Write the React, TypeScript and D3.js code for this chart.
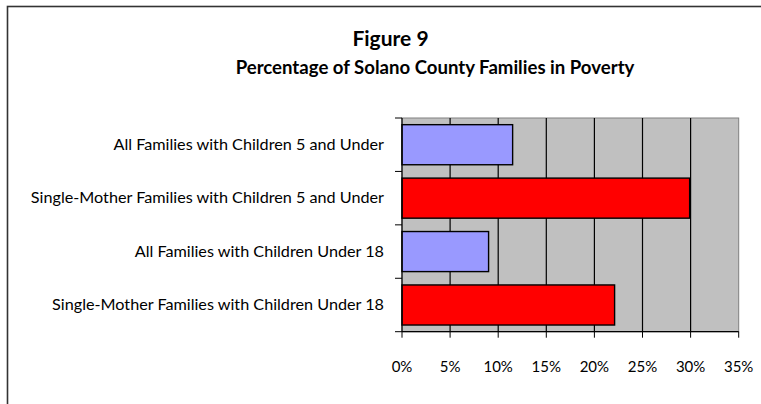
import * as d3 from 'd3';

const CATEGORIES = [
  'All Families with Children 5 and Under',
  'Single-Mother Families with Children 5 and Under',
  'All Families with Children Under 18',
  'Single-Mother Families with Children Under 18',
];
const VALUES = [11.5, 29.9, 9.0, 22.1];
const BAR_COLORS = ['#9999ff', '#ff0000', '#9999ff', '#ff0000'];
const X_TICKS = [0, 5, 10, 15, 20, 25, 30, 35];

const VW = 761;
const VH = 404;
const PLOT = { left: 402, right: 738.7, top: 118, bottom: 331.7 };
const FONT = 'Lato, "Open Sans", sans-serif';

const xScale = d3.scaleLinear().domain([0, 35]).range([PLOT.left, PLOT.right]);
const yScale = d3.scaleBand<string>()
  .domain(CATEGORIES)
  .range([PLOT.top, PLOT.bottom])
  .paddingInner(0.25)
  .paddingOuter(0.125);

const step = yScale.step();
const boundaries = d3.range(CATEGORIES.length + 1).map(i => PLOT.top + i * step);

export default function App() {
  return (
    <svg width={VW} height={VH} viewBox={`0 0 ${VW} ${VH}`}
      style={{ position: 'absolute', left: 0, top: 0, display: 'block', background: '#fff' }}>
      <rect x={7.5} y={6.5} width={VW + 20} height={VH + 20} fill="#fff" stroke="#333" strokeWidth={1.6} />

      <text x={390.5} y={45.5} textAnchor="middle" fontFamily={FONT} fontWeight={700} fontSize={21} fill="#000">
        Figure 9
      </text>
      <text x={435} y={74} textAnchor="middle" fontFamily={FONT} fontWeight={700} fontSize={18.6} fill="#000">
        Percentage of Solano County Families in Poverty
      </text>

      {/* plot area */}
      <rect x={PLOT.left} y={PLOT.top} width={PLOT.right - PLOT.left} height={PLOT.bottom - PLOT.top}
        fill="#c0c0c0" stroke="#808080" strokeWidth={1} />

      {X_TICKS.filter(t => t > 0 && t < 35).map(t => (
        <line key={`g${t}`} x1={xScale(t)} x2={xScale(t)} y1={PLOT.top} y2={PLOT.bottom}
          stroke="#000" strokeWidth={1.2} />
      ))}

      {CATEGORIES.map((c, i) => (
        <rect key={`b${i}`} x={xScale(0)} y={yScale(c)!}
          width={xScale(VALUES[i]) - xScale(0)} height={yScale.bandwidth()}
          fill={BAR_COLORS[i]} stroke="#000" strokeWidth={1.4} />
      ))}

      {/* axes */}
      <line x1={PLOT.left} x2={PLOT.left} y1={PLOT.top} y2={PLOT.bottom} stroke="#000" strokeWidth={1.2} />
      <line x1={PLOT.left} x2={PLOT.right} y1={PLOT.bottom} y2={PLOT.bottom} stroke="#000" strokeWidth={1.2} />

      {boundaries.map((y, i) => (
        <line key={`yt${i}`} x1={PLOT.left - 7} x2={PLOT.left} y1={y} y2={y} stroke="#000" strokeWidth={1} />
      ))}

      {X_TICKS.map(t => (
        <g key={`xt${t}`}>
          <line x1={xScale(t)} x2={xScale(t)} y1={PLOT.bottom} y2={PLOT.bottom + 6} stroke="#000" strokeWidth={1} />
          <text x={xScale(t)} y={372} textAnchor="middle" fontFamily={FONT} fontSize={15} fill="#000">
            {`${t}%`}
          </text>
        </g>
      ))}

      {CATEGORIES.map(c => (
        <text key={`l${c}`} x={384} y={yScale(c)! + yScale.bandwidth() / 2 + 5.2}
          textAnchor="end" fontFamily={FONT} fontSize={16.2} fill="#000">
          {c}
        </text>
      ))}
    </svg>
  );
}
